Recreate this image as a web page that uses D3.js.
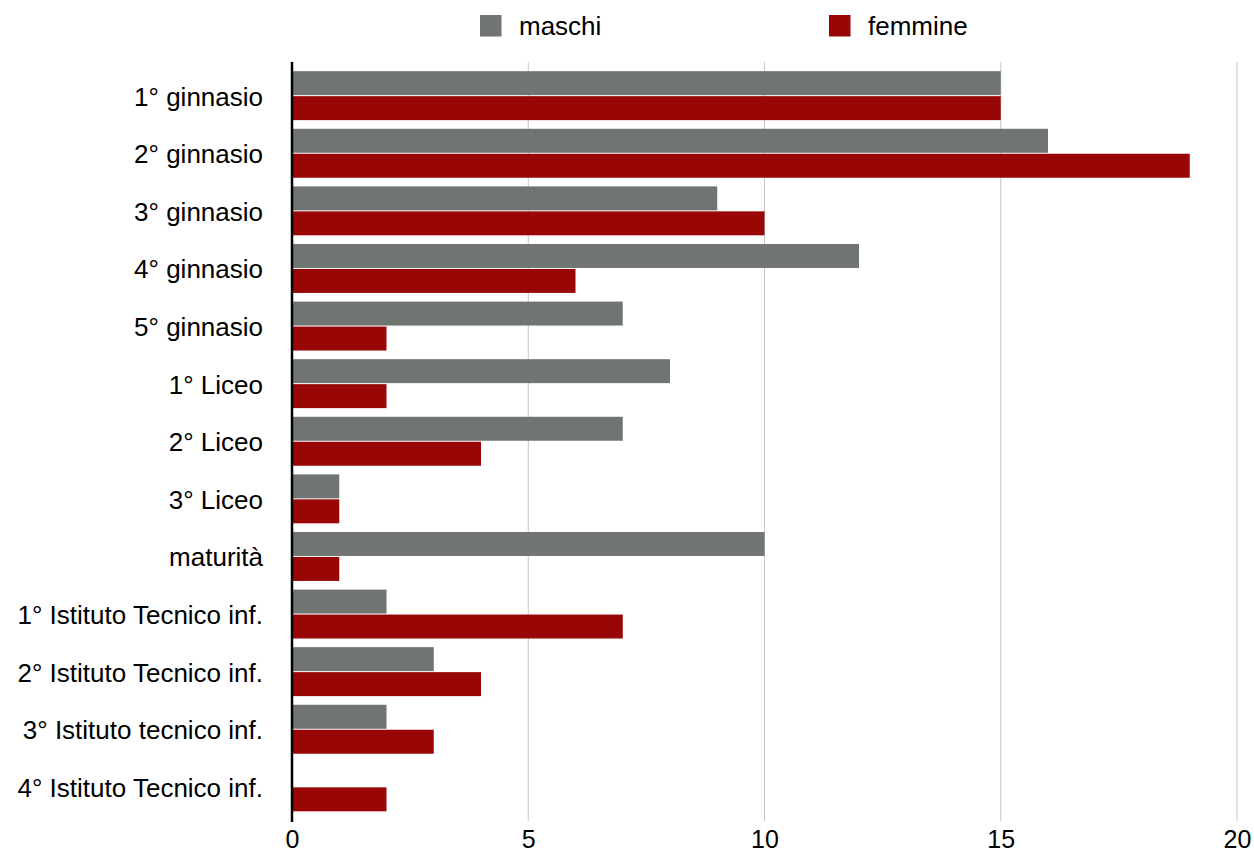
<!DOCTYPE html>
<html>
<head>
<meta charset="utf-8">
<script src="https://cdn.jsdelivr.net/npm/d3@7"></script>
<style>
  body { margin: 0; background: #fff; }
  svg text { font-family: "Liberation Sans", Arial, sans-serif; fill: #000; }
</style>
</head>
<body>
<div id="chartId"></div>
<script>
// data

var categories = [
    "1° ginnasio", "2° ginnasio", "3° ginnasio", "4° ginnasio", "5° ginnasio",
    "1° Liceo", "2° Liceo", "3° Liceo", "maturità",
    "1° Istituto Tecnico inf.", "2° Istituto Tecnico inf.",
    "3° Istituto tecnico inf.", "4° Istituto Tecnico inf."
];
var seriesNames = ["maschi", "femmine"];
var maschi  = [15, 16, 9, 12, 7, 8, 7, 1, 10, 2, 3, 2, 0];
var femmine = [15, 19, 10, 6, 2, 2, 4, 1, 1, 7, 4, 3, 2];
var xTicks = [0, 5, 10, 15, 20];
var seriesColors = ["#707571", "#990606"];


(function() {

    "use strict";

    var full = {w: 1254, h: 855};
    var margin = {top: 62, right: 17, bottom: 34, left: 292};
    var fontSize = 26;

    var rows = categories.map(function(c, i) {
        return {name: c, values: [maschi[i], femmine[i]]};
    });

    var svg = d3.select("#chartId").append("svg")
        .attr("width", full.w)
        .attr("height", full.h);

    var xScale = d3.scaleLinear()
        .domain([0, 20])
        .range([margin.left, full.w - margin.right]);

    var yScale = d3.scaleBand()
        .domain(categories)
        .range([margin.top - 0.5, full.h - margin.bottom])
        .paddingInner(0.15)
        .paddingOuter(0.168);

    var subScale = d3.scaleBand()
        .domain([0, 1])
        .range([0, yScale.bandwidth()])
        .paddingInner(0.04);

    // grid lines
    svg.append("g").selectAll("line")
        .data(xTicks.filter(function(d) { return d > 0; }))
        .enter().append("line")
          .attr("x1", function(d) { return xScale(d); })
          .attr("x2", function(d) { return xScale(d); })
          .attr("y1", margin.top)
          .attr("y2", full.h - margin.bottom)
          .attr("stroke", "#c6c6c6")
          .attr("stroke-width", 1);

    // bars
    var groups = svg.append("g").selectAll("g")
        .data(rows)
        .enter().append("g")
          .attr("transform", function(d) { return "translate(0," + yScale(d.name) + ")"; });

    groups.selectAll("rect")
        .data(function(d) { return d.values; })
        .enter().append("rect")
          .attr("x", xScale(0))
          .attr("y", function(d, i) { return subScale(i); })
          .attr("width", function(d) { return xScale(d) - xScale(0); })
          .attr("height", subScale.bandwidth())
          .attr("fill", function(d, i) { return seriesColors[i]; });

    // category labels
    svg.append("g").selectAll("text")
        .data(categories)
        .enter().append("text")
          .attr("x", margin.left - 29)
          .attr("y", function(d) { return yScale(d) + yScale.bandwidth() / 2 + 10; })
          .attr("text-anchor", "end")
          .attr("font-size", fontSize)
          .text(function(d) { return d; });

    // x axis
    var xAxis = d3.axisBottom(xScale).tickValues(xTicks).tickSize(0).tickPadding(9);
    var axisG = svg.append("g")
        .attr("transform", "translate(0," + (full.h - margin.bottom) + ")")
        .call(xAxis);
    axisG.select(".domain").remove();
    axisG.selectAll("text")
        .attr("font-size", 25)
        .attr("font-family", "Liberation Sans, Arial, sans-serif")
        .attr("fill", "#000");

    // y axis line
    svg.append("line")
        .attr("x1", xScale(0)).attr("x2", xScale(0))
        .attr("y1", margin.top).attr("y2", full.h - margin.bottom + 1)
        .attr("stroke", "#000")
        .attr("stroke-width", 2.5);

    // legend
    var legendX = [480, 829];
    var legend = svg.append("g").selectAll("g")
        .data(seriesNames)
        .enter().append("g")
          .attr("transform", function(d, i) { return "translate(" + legendX[i] + ",15)"; });
    legend.append("rect")
        .attr("width", 21.5).attr("height", 21.5)
        .attr("fill", function(d, i) { return seriesColors[i]; });
    legend.append("text")
        .attr("x", 39).attr("y", 20)
        .attr("font-size", fontSize)
        .text(function(d) { return d; });

})();
</script>
</body>
</html>
